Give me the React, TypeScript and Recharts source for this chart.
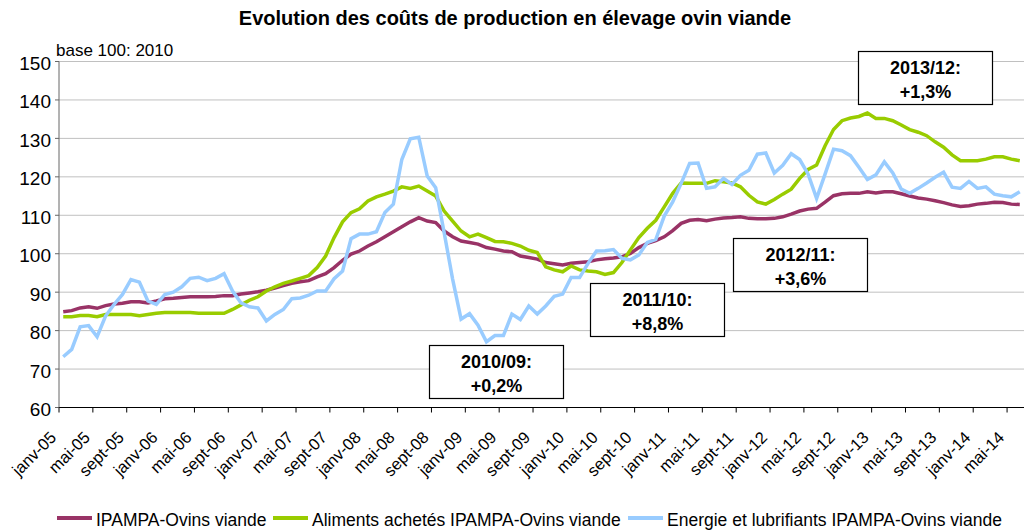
import React from 'react';
import { LineChart, Line, XAxis, YAxis, CartesianGrid } from 'recharts';

const MONTH_NAMES = ['janv', 'févr', 'mars', 'avr', 'mai', 'juin', 'juil', 'août', 'sept', 'oct', 'nov', 'déc'];
const YEARS = ['05', '06', '07', '08', '09', '10', '11', '12', '13', '14'];
const N_MONTHS = 114; // janv-05 .. juin-14

const CATEGORIES: string[] = [];
YEARS.forEach((yy) => MONTH_NAMES.forEach((m) => CATEGORIES.push(`${m}-${yy}`)));
const MONTHS = CATEGORIES.slice(0, N_MONTHS);

const IPAMPA = [
  84.9, 85.2, 85.9, 86.2, 85.8, 86.5, 86.9, 87.1, 87.5, 87.5, 87.2, 87.7,
  88.3, 88.4, 88.6, 88.8, 88.8, 88.8, 88.9, 89.1, 89.1, 89.5, 89.8, 90.1,
  90.5, 91.1, 91.7, 92.3, 92.7, 93.0, 94.0, 94.8, 96.4, 98.3, 99.9, 100.7,
  102.0, 103.1, 104.4, 105.7, 107.0, 108.3, 109.4, 108.5, 108.1, 105.9, 104.4, 103.3,
  102.9, 102.5, 101.6, 101.2, 100.7, 100.5, 99.4, 99.0, 98.6, 97.7, 97.4, 97.1,
  97.5, 97.7, 97.9, 98.4, 98.7, 98.9, 99.2, 100.1, 101.6, 102.7, 103.4, 104.4,
  106.0, 107.9, 108.7, 108.9, 108.6, 109.0, 109.3, 109.4, 109.6, 109.2, 109.1, 109.1,
  109.2, 109.6, 110.3, 111.1, 111.6, 111.8, 113.4, 115.1, 115.6, 115.7, 115.7, 116.1,
  115.8, 116.1, 116.1, 115.6, 115.0, 114.5, 114.2, 113.8, 113.3, 112.7, 112.3, 112.5,
  112.9, 113.1, 113.4, 113.3, 112.9, 112.8,
];

const ALIMENTS = [
  83.6, 83.6, 83.9, 83.9, 83.6, 84.2, 84.2, 84.2, 84.2, 83.9, 84.2, 84.5,
  84.7, 84.7, 84.7, 84.7, 84.5, 84.5, 84.5, 84.5, 85.5, 86.7, 87.9, 88.8,
  90.3, 91.4, 92.3, 92.9, 93.6, 94.3, 96.4, 99.4, 104.2, 108.3, 110.7, 111.7,
  113.7, 114.8, 115.5, 116.3, 117.4, 117.0, 117.6, 116.3, 115.0, 111.1, 108.5, 105.9,
  104.4, 105.1, 104.2, 103.2, 103.1, 102.7, 102.0, 100.9, 100.3, 96.6, 95.8, 95.3,
  96.8, 95.8, 95.5, 95.3, 94.6, 95.1, 97.7, 101.0, 104.2, 106.6, 108.7, 112.2,
  115.7, 118.4, 118.3, 118.3, 118.3, 119.0, 118.7, 118.4, 117.4, 115.2, 113.5, 112.9,
  114.1, 115.5, 116.8, 119.6, 121.9, 123.1, 128.1, 132.3, 134.6, 135.3, 135.7, 136.6,
  135.2, 135.2, 134.6, 133.5, 132.3, 131.6, 130.7, 129.1, 127.7, 125.7, 124.2, 124.2,
  124.2, 124.6, 125.2, 125.2, 124.6, 124.2,
];

const ENERGIE = [
  73.2, 75.1, 81.0, 81.3, 78.4, 83.8, 86.8, 89.4, 93.3, 92.6, 87.7, 86.8,
  89.4, 90.0, 91.4, 93.6, 93.9, 93.0, 93.6, 94.8, 90.3, 87.2, 86.2, 85.9,
  82.5, 84.2, 85.5, 88.3, 88.5, 89.2, 90.3, 90.3, 93.5, 95.5, 103.9, 105.1,
  105.1, 105.7, 110.7, 112.9, 124.5, 129.9, 130.3, 120.2, 117.2, 105.5, 93.4, 83.0,
  84.4, 81.4, 77.1, 78.7, 78.7, 84.3, 82.9, 86.4, 84.3, 86.4, 88.9, 89.5,
  93.8, 93.8, 97.5, 100.7, 100.8, 101.1, 98.8, 98.4, 99.7, 102.9, 103.7, 109.8,
  113.5, 118.3, 123.5, 123.6, 117.0, 117.4, 119.6, 118.0, 120.4, 121.7, 125.9, 126.2,
  121.0, 123.0, 126.0, 124.5, 120.7, 114.4, 120.7, 127.2, 126.8, 125.5, 122.5, 119.3,
  120.5, 123.9, 121.0, 116.8, 115.7, 117.0, 118.4, 119.9, 121.2, 117.3, 117.0, 118.8,
  117.0, 117.4, 115.5, 115.1, 114.8, 116.1,
];

const Y_TICKS = [60, 70, 80, 90, 100, 110, 120, 130, 140, 150];

const SERIES = [
  { key: 'ipampa', name: 'IPAMPA-Ovins viande', color: '#993366', values: IPAMPA },
  { key: 'aliments', name: 'Aliments achetés IPAMPA-Ovins viande', color: '#99CC00', values: ALIMENTS },
  { key: 'energie', name: 'Energie et lubrifiants IPAMPA-Ovins viande', color: '#99CCFF', values: ENERGIE },
];

const ANNOTATIONS = [
  { line1: '2010/09:', line2: '+0,2%' },
  { line1: '2011/10:', line2: '+8,8%' },
  { line1: '2012/11:', line2: '+3,6%' },
  { line1: '2013/12:', line2: '+1,3%' },
];

const data = MONTHS.map((m, i) => {
  const row: Record<string, string | number> = { month: m };
  SERIES.forEach((s) => {
    row[s.key] = s.values[i];
  });
  return row;
});

// layout
const W = 1025;
const H = 531;
const PLOT_LEFT = 59;
const PLOT_RIGHT = 1024;
const PLOT_TOP = 61.5;
const PLOT_BOTTOM = 407.5;
const BAND = (PLOT_RIGHT - PLOT_LEFT) / N_MONTHS;
const FONT = '"Liberation Sans", Arial, Helvetica, sans-serif';

const ANNOT_BOXES = [
  { left: 429, top: 345 },
  { left: 590, top: 283 },
  { left: 733, top: 238 },
  { left: 858, top: 51 },
];
const LEGEND_X = [57, 273, 628];

function XTick(props: any) {
  const { x, y, payload } = props;
  const tx = x - 6;
  const ty = y + 31;
  return (
    <g>
      <line x1={x - BAND / 2} y1={y} x2={x - BAND / 2} y2={y + 5} stroke="#000" strokeWidth={1} />
      <text
        x={tx}
        y={ty}
        transform={`rotate(-45 ${tx} ${ty})`}
        textAnchor="end"
        fontSize={16.5}
        fontFamily={FONT}
        fill="#000"
      >
        {payload.value}
      </text>
    </g>
  );
}

function YTick(props: any) {
  const { x, y, payload } = props;
  return (
    <text x={x} y={y + 8.5} textAnchor="end" fontSize={19} fontFamily={FONT} fill="#000">
      {payload.value}
    </text>
  );
}

export default function App() {
  return (
    <div style={{ position: 'absolute', left: 0, top: 0, width: W, height: H, background: '#fff' }}>
      <LineChart
        width={W}
        height={H}
        data={data}
        margin={{ top: PLOT_TOP, right: W - PLOT_RIGHT, bottom: 0, left: 0 }}
      >
        <CartesianGrid vertical={false} stroke="#c0c0c0" strokeWidth={1} />
        <XAxis
          dataKey="month"
          interval={3}
          padding={{ left: BAND / 2, right: BAND / 2 }}
          height={H - PLOT_BOTTOM}
          axisLine={{ stroke: '#000', strokeWidth: 1 }}
          tickLine={false}
          tickSize={0}
          tickMargin={0}
          tick={<XTick />}
        />
        <YAxis
          domain={[60, 150]}
          ticks={Y_TICKS}
          width={PLOT_LEFT}
          allowDataOverflow
          axisLine={{ stroke: '#666', strokeWidth: 1 }}
          tickLine={{ stroke: '#666' }}
          tickSize={4}
          tickMargin={4}
          tick={<YTick />}
        />
        {SERIES.map((s) => (
          <Line
            key={s.key}
            type="linear"
            dataKey={s.key}
            name={s.name}
            stroke={s.color}
            strokeWidth={3.5}
            dot={false}
            isAnimationActive={false}
          />
        ))}
      </LineChart>
      <svg
        width={W}
        height={H}
        style={{ position: 'absolute', left: 0, top: 0, pointerEvents: 'none' }}
      >
        <text x={515} y={25} textAnchor="middle" fontSize={20} fontWeight="bold" fontFamily={FONT} fill="#000">
          Evolution des coûts de production en élevage ovin viande
        </text>
        <text x={56} y={56} fontSize={17} fontFamily={FONT} fill="#000">
          base 100: 2010
        </text>
        {ANNOTATIONS.map((a, i) => {
          const b = ANNOT_BOXES[i];
          return (
            <g key={a.line1}>
              <rect x={b.left + 0.5} y={b.top + 0.5} width={134} height={53} fill="#fff" stroke="#000" strokeWidth={1.2} />
              <text x={b.left + 67.5} y={b.top + 23} textAnchor="middle" fontSize={18} fontWeight="bold" fontFamily={FONT} fill="#000">
                {a.line1}
              </text>
              <text x={b.left + 67.5} y={b.top + 46.5} textAnchor="middle" fontSize={18} fontWeight="bold" fontFamily={FONT} fill="#000">
                {a.line2}
              </text>
            </g>
          );
        })}
        {SERIES.map((s, i) => (
          <g key={s.key}>
            <line x1={LEGEND_X[i]} y1={518} x2={LEGEND_X[i] + 35} y2={518} stroke={s.color} strokeWidth={4} />
            <text x={LEGEND_X[i] + 39} y={526} fontSize={17.5} fontFamily={FONT} fill="#000">
              {s.name}
            </text>
          </g>
        ))}
      </svg>
    </div>
  );
}
